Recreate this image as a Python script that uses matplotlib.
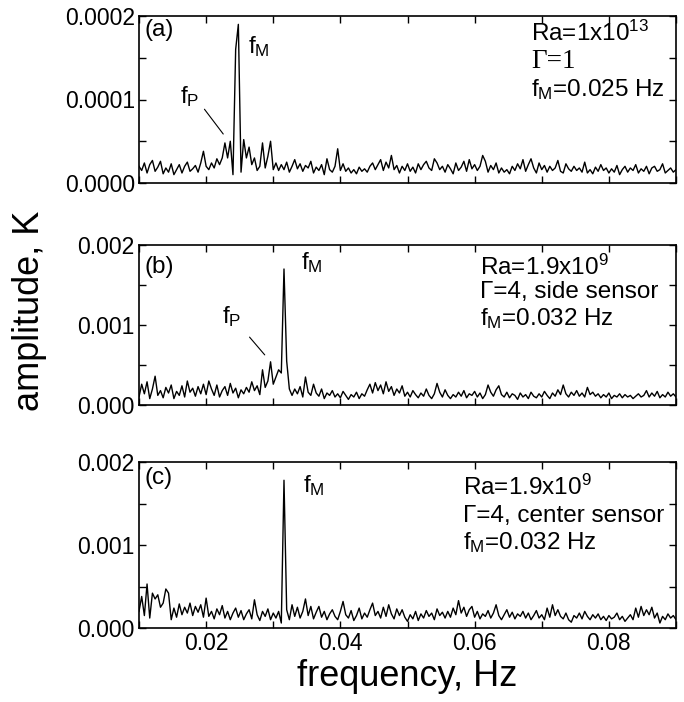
import numpy as np
import matplotlib
matplotlib.use("Agg")
import matplotlib.pyplot as plt
from matplotlib.ticker import MultipleLocator, FormatStrFormatter

plt.rcParams['font.family'] = ['Liberation Sans', 'DejaVu Sans']
plt.rcParams['mathtext.default'] = 'regular'

# frequency grid of the spectra, Hz (0.01 .. 0.09, step 0.0004)
f_start = 0.01
f_step = 0.0004

# (a) Ra=1e13, Gamma=1   -- amplitude in units of 1e-5 K
amp_a = [
    2.0, 1.5, 2.4, 1.2, 2.2, 2.7, 1.4, 1.9, 2.6, 1.1,
    1.8, 1.3, 2.3, 1.0, 1.6, 2.2, 1.2, 2.0, 2.5, 1.4,
    1.7, 2.1, 1.3, 2.4, 3.8, 2.0, 1.6, 2.4, 1.8, 2.9,
    2.2, 3.0, 4.8, 3.0, 5.0, 1.0, 16.0, 19.0, 1.3, 5.2,
    3.0, 4.3, 2.2, 3.0, 1.5, 2.0, 4.8, 1.8, 3.2, 5.0,
    1.6, 2.4, 1.5, 2.2, 1.6, 2.5, 1.3, 2.0, 2.8, 1.7,
    2.3, 1.4, 2.1, 1.8, 2.6, 1.2, 1.9, 1.5, 2.2, 1.0,
    2.9, 1.6, 1.3, 2.0, 4.1, 1.5, 2.3, 1.4, 1.8, 1.2,
    1.6, 1.1, 1.9, 1.4, 1.7, 1.3, 2.0, 2.4, 1.6, 2.2,
    2.8, 1.5, 2.5, 1.8, 3.3, 1.6, 2.1, 1.2, 2.0, 1.5,
    2.3, 1.4, 1.9, 1.2, 2.3, 1.6, 2.2, 2.6, 1.8, 1.5,
    2.9, 2.4, 1.6, 2.0, 1.3, 2.2, 1.7, 1.1, 2.4, 1.5,
    1.9, 2.6, 1.4, 2.8, 1.7, 2.2, 1.5, 2.0, 3.3, 2.6,
    1.3, 2.1, 1.6, 2.4, 1.2, 1.8, 1.3, 1.6, 1.1, 2.0,
    1.5, 2.3, 1.7, 2.8, 1.4, 2.2, 2.9, 1.8, 1.2, 2.4,
    1.6, 2.1, 1.3, 2.0, 1.5, 1.8, 2.7, 1.4, 1.2, 2.3,
    1.7, 1.4, 2.0, 1.5, 1.8, 1.3, 2.5, 1.2, 1.6, 1.1,
    1.9, 1.4, 2.2, 1.5, 1.8, 1.2, 1.7, 1.3, 2.1, 1.0,
    1.6, 2.0, 1.3, 1.8, 1.5, 2.2, 1.2, 1.7, 1.4, 2.0,
    1.1, 1.8, 2.0, 1.4, 1.6, 2.3, 1.2, 1.5, 1.8, 1.3,
    1.6,
]

# (b) Ra=1.9e9, Gamma=4, side sensor   -- amplitude in units of 1e-4 K
amp_b = [
    1.0, 2.6, 1.4, 2.9, 0.8, 2.0, 3.6, 1.2, 1.8, 0.9,
    2.2, 1.5, 2.5, 0.8, 1.7, 1.2, 2.4, 1.0, 3.0, 1.6,
    2.1, 1.1, 2.3, 1.4, 2.6, 1.3, 3.0, 2.0, 1.2, 2.5,
    1.0, 1.8, 2.3, 1.2, 2.7, 1.5, 2.1, 0.9, 1.9, 1.4,
    2.2, 1.6, 2.9, 1.8, 2.4, 1.3, 4.4, 2.2, 3.0, 5.4,
    2.6, 3.5, 4.4, 4.0, 17.0, 5.5, 2.0, 1.2, 2.0, 1.4,
    2.3, 1.0, 3.5, 1.6, 1.2, 2.6, 1.5, 1.1, 2.0, 0.8,
    1.5, 1.2, 1.8, 1.0, 1.4, 0.9, 1.7, 1.2, 0.7, 1.3,
    1.0, 1.6, 0.8, 1.4, 1.1, 1.9, 2.6, 1.5, 2.8, 1.8,
    2.5, 1.4, 2.9, 1.7, 2.3, 1.2, 2.0, 1.5, 2.4, 1.1,
    1.6, 1.0, 1.8, 1.3, 0.9, 1.5, 1.1, 2.0, 1.2, 0.8,
    1.4, 2.7, 1.6, 1.0, 1.9, 1.2, 0.8, 1.3, 1.0, 1.6,
    1.1, 1.8, 0.9, 1.4, 1.2, 1.7, 1.0, 1.5, 0.8, 1.3,
    2.5, 1.6, 1.1, 1.9, 2.4, 1.3, 1.0, 1.6, 0.9, 1.4,
    1.2, 0.7, 1.5, 1.0, 1.3, 0.8, 1.6, 1.1, 0.9, 1.4,
    1.0, 1.7, 1.2, 0.8, 1.5, 1.1, 1.9, 1.3, 2.5, 1.4,
    1.0, 1.6, 1.2, 1.8, 1.1, 1.5, 1.0, 2.2, 1.3, 1.6,
    1.1, 1.4, 0.9, 1.3, 1.0, 1.5, 0.8, 1.2, 1.0, 1.4,
    0.9, 1.3, 1.0, 1.2, 0.8, 1.1, 1.4, 1.0, 1.2, 1.8,
    1.0, 1.5, 1.1, 1.7, 0.9, 1.3, 1.0, 1.6, 1.1, 1.4,
    1.0,
]

# (c) Ra=1.9e9, Gamma=4, center sensor   -- amplitude in units of 1e-4 K
amp_c = [
    2.0, 3.8, 1.5, 5.3, 1.2, 4.2, 3.5, 4.0, 2.5, 3.0,
    4.7, 4.2, 1.0, 2.4, 1.3, 2.9, 1.6, 2.5, 1.8, 3.0,
    1.5, 2.6, 1.9, 2.8, 1.3, 3.6, 1.4, 2.0, 1.1, 2.3,
    1.6, 2.7, 1.2, 2.0, 1.0, 1.8, 2.4, 1.3, 2.1, 1.0,
    1.7, 2.2, 1.1, 3.4, 1.6, 0.9, 2.0, 1.4, 2.3, 1.0,
    1.8, 1.2, 2.0, 0.6, 17.8, 2.2, 1.0, 2.8, 1.4, 2.5,
    1.2, 2.0, 3.5, 1.5, 2.6, 1.1, 1.9, 2.6, 1.3, 2.0,
    1.0, 1.7, 2.2, 1.4, 1.0, 2.0, 3.2, 1.6, 1.2, 2.1,
    0.9, 1.5, 2.4, 1.1, 1.8, 1.3, 2.2, 3.0, 1.5, 2.0,
    1.2, 2.5, 1.4, 2.8, 1.7, 1.1, 2.3, 1.5, 2.2, 1.3,
    0.8, 1.6, 1.1, 2.0, 0.9, 1.7, 1.2, 2.1, 1.4, 1.8,
    1.0, 2.3, 1.5, 1.9, 1.2, 2.0, 1.3, 2.4, 1.6, 3.3,
    1.8, 2.5, 1.4, 2.2, 2.6, 1.3, 2.0, 1.1, 1.7, 1.4,
    2.1, 1.2, 1.8, 2.8, 1.5, 1.0, 1.6, 2.2, 1.3, 1.9,
    1.1, 1.7, 1.4, 2.0, 1.2, 1.8, 1.0, 1.5, 2.1, 1.2,
    1.6, 1.0, 2.4, 1.3, 2.8, 1.5, 2.2, 1.4, 1.1, 1.8,
    1.0, 0.7, 1.5, 1.2, 1.8, 1.1, 2.0, 1.4, 1.0, 1.6,
    1.2, 1.7, 1.0, 1.4, 0.9, 1.5, 1.1, 1.3, 1.8, 1.0,
    1.4, 0.8, 1.2, 1.6, 1.0, 2.4, 1.3, 2.6, 1.5, 2.2,
    1.6, 2.5, 1.2, 1.8, 0.6, 1.4, 1.0, 1.7, 1.2, 1.5,
    1.0,
]


def freqs(n):
    return f_start + f_step * np.arange(n)


fig = plt.figure(figsize=(6.84, 7.02), dpi=100)

L, W = 139 / 684, 537 / 684
ax_a = fig.add_axes([L, 1 - 183 / 702, W, 167 / 702])
ax_b = fig.add_axes([L, 1 - 405 / 702, W, 160 / 702])
ax_c = fig.add_axes([L, 1 - 628 / 702, W, 166 / 702])

panels = [
    (ax_a, np.array(amp_a) * 1e-5, 0.0002, 0.0001, '%.4f'),
    (ax_b, np.array(amp_b) * 1e-4, 0.002, 0.001, '%.3f'),
    (ax_c, np.array(amp_c) * 1e-4, 0.002, 0.001, '%.3f'),
]

for ax, amp, ymax, ystep, fmt in panels:
    ax.plot(freqs(len(amp)), amp, color='black', lw=1.0)
    ax.set_xlim(0.01, 0.09)
    ax.set_ylim(0, ymax)
    ax.xaxis.set_major_locator(MultipleLocator(0.02))
    ax.xaxis.set_minor_locator(MultipleLocator(0.01))
    ax.yaxis.set_major_locator(MultipleLocator(ystep))
    ax.yaxis.set_minor_locator(MultipleLocator(ystep / 2))
    ax.yaxis.set_major_formatter(FormatStrFormatter(fmt))
    ax.tick_params(which='both', direction='in', top=True, right=True,
                   labelsize=16.5, width=1, length=5, pad=3)
    for s in ax.spines.values():
        s.set_linewidth(1.2)

ax_a.tick_params(labelbottom=False)
ax_b.tick_params(labelbottom=False)
ax_c.xaxis.set_major_formatter(FormatStrFormatter('%.2f'))

fs = 17.5
# panel (a)
ax_a.text(0.011, 0.915, '(a)', transform=ax_a.transAxes, fontsize=fs, va='center')
ax_a.text(0.203, 0.775, '$f_M$', transform=ax_a.transAxes, fontsize=fs, va='baseline')
ax_a.text(0.0161, 9.6e-5, '$f_P$', fontsize=fs, va='baseline')
ax_a.annotate('', xy=(0.0228, 5.6e-5), xytext=(0.0195, 9.1e-5),
              arrowprops=dict(arrowstyle='-', lw=0.8, color='black'))
ax_a.text(0.730, 0.898, 'Ra=1x10$^{13}$', transform=ax_a.transAxes, fontsize=fs, va='center')
ax_a.text(0.730, 0.725, 'Γ=1', transform=ax_a.transAxes, fontsize=fs + 2, va='center',
          family=['Liberation Serif', 'DejaVu Serif'])
ax_a.text(0.730, 0.557, '$f_M$=0.025 Hz', transform=ax_a.transAxes, fontsize=fs, va='center')

# panel (b)
ax_b.text(0.011, 0.86, '(b)', transform=ax_b.transAxes, fontsize=fs, va='center')
ax_b.text(0.302, 0.85, '$f_M$', transform=ax_b.transAxes, fontsize=fs, va='baseline')
ax_b.text(0.0224, 1.02e-3, '$f_P$', fontsize=fs, va='baseline')
ax_b.annotate('', xy=(0.0290, 6.0e-4), xytext=(0.0262, 8.75e-4),
              arrowprops=dict(arrowstyle='-', lw=0.8, color='black'))
ax_b.text(0.635, 0.8625, 'Ra=1.9x10$^{9}$', transform=ax_b.transAxes, fontsize=fs, va='center')
ax_b.text(0.635, 0.706, 'Γ=4, side sensor', transform=ax_b.transAxes, fontsize=fs, va='center')
ax_b.text(0.635, 0.5375, '$f_M$=0.032 Hz', transform=ax_b.transAxes, fontsize=fs, va='center')

# panel (c)
ax_c.text(0.011, 0.904, '(c)', transform=ax_c.transAxes, fontsize=fs, va='center')
ax_c.text(0.305, 0.82, '$f_M$', transform=ax_c.transAxes, fontsize=fs, va='baseline')
ax_c.text(0.603, 0.849, 'Ra=1.9x10$^{9}$', transform=ax_c.transAxes, fontsize=fs, va='center')
ax_c.text(0.603, 0.675, 'Γ=4, center sensor', transform=ax_c.transAxes, fontsize=fs, va='center')
ax_c.text(0.603, 0.512, '$f_M$=0.032 Hz', transform=ax_c.transAxes, fontsize=fs, va='center')

fig.text(30 / 684, 1 - 311 / 702, 'amplitude, K', rotation=90, fontsize=26,
         ha='center', va='center')
fig.text(407 / 684, 1 - 676 / 702, 'frequency, Hz', fontsize=26,
         ha='center', va='center')

fig.savefig('out.png', dpi=100)
